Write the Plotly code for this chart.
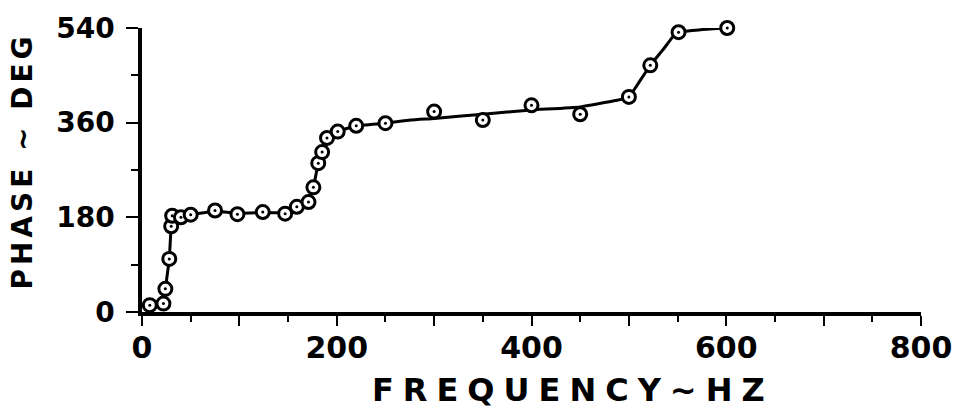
import plotly.graph_objects as go

# Measured points (frequency in Hz, phase in degrees)
freq = [8, 22, 24, 28, 30, 31, 40, 50, 75, 98, 124, 147, 159, 171, 176, 181, 185, 190, 201, 220, 250, 300, 350, 400, 450, 500, 522, 551, 601]
phase = [13, 16, 44, 101, 163, 183, 180, 185, 193, 186, 190, 187, 200, 209, 237, 283, 304, 331, 343, 354, 359, 381, 365, 393, 376, 409, 469, 532, 540]

# Hand-drawn fitted curve
curve_freq = [8, 22, 24, 28, 30, 32, 40, 50, 75, 100, 125, 150, 160, 170, 176, 181, 185, 190, 201, 220, 250, 276, 300, 350, 400, 450, 486, 500, 508, 522, 536, 545, 551, 575, 601]
curve_phase = [13, 16, 44, 101, 163, 183, 182, 185, 191, 188, 189, 189, 197, 208, 237, 283, 304, 329, 343, 354, 359, 365, 368, 376, 384, 390, 402, 409, 430, 469, 501, 523, 532, 537, 540]

x_ticks = [0, 100, 200, 300, 400, 500, 600, 700, 800]
x_ticktext = ["0", "", "200", "", "400", "", "600", "", "800"]
y_ticks = [0, 180, 360, 540]
y_ticktext = ["0", "180", "360", "540"]

FONT = "DejaVu Sans"

fig = go.Figure()
fig.add_trace(go.Scatter(x=curve_freq, y=curve_phase, mode="lines",
                         line=dict(color="black", width=3, shape="spline", smoothing=0.4),
                         hoverinfo="skip", showlegend=False))
fig.add_trace(go.Scatter(x=freq, y=phase, mode="markers",
                         marker=dict(symbol="circle", size=13, color="white",
                                     line=dict(color="black", width=3)),
                         showlegend=False, cliponaxis=False))
fig.add_trace(go.Scatter(x=freq, y=phase, mode="markers",
                         marker=dict(symbol="circle", size=3, color="black"),
                         showlegend=False, hoverinfo="skip", cliponaxis=False))

fig.update_layout(
    width=964, height=414,
    margin=dict(l=142, r=42, t=21, b=102),
    paper_bgcolor="white", plot_bgcolor="white",
    font=dict(family=FONT, color="black"),
    xaxis=dict(range=[0, 800], showgrid=False, zeroline=False,
               showline=True, linecolor="black", linewidth=3.5,
               tickmode="array", tickvals=x_ticks, ticktext=x_ticktext,
               ticks="outside", ticklen=10, tickwidth=2, tickcolor="black",
               minor=dict(dtick=50, ticks="outside", ticklen=6, tickwidth=2, tickcolor="black"),
               tickfont=dict(family=FONT, size=30, weight="bold"),
               ticklabelstandoff=-4),
    yaxis=dict(range=[0, 540], showgrid=False, zeroline=False,
               showline=True, linecolor="black", linewidth=3.5,
               tickmode="array", tickvals=y_ticks, ticktext=y_ticktext,
               ticks="outside", ticklen=12, tickwidth=2, tickcolor="black",
               minor=dict(dtick=90, ticks="outside", ticklen=7, tickwidth=2, tickcolor="black"),
               tickfont=dict(family=FONT, size=28, weight="bold"),
               ticklabelstandoff=6),
    annotations=[
        dict(text='<span style="letter-spacing:9px">FREQUENCY~HZ</span>',
             xref="paper", yref="paper", x=0.5536, y=-0.275,
             xanchor="center", yanchor="middle", showarrow=False,
             font=dict(family=FONT, size=32, weight="bold", color="black")),
        dict(text='<span style="letter-spacing:4px">PHASE ~ DEG</span>',
             xref="paper", yref="paper", x=-0.1535, y=0.531,
             xanchor="center", yanchor="middle", showarrow=False, textangle=-90,
             font=dict(family=FONT, size=28, weight="bold", color="black")),
    ],
)

fig.write_html("out.html")
